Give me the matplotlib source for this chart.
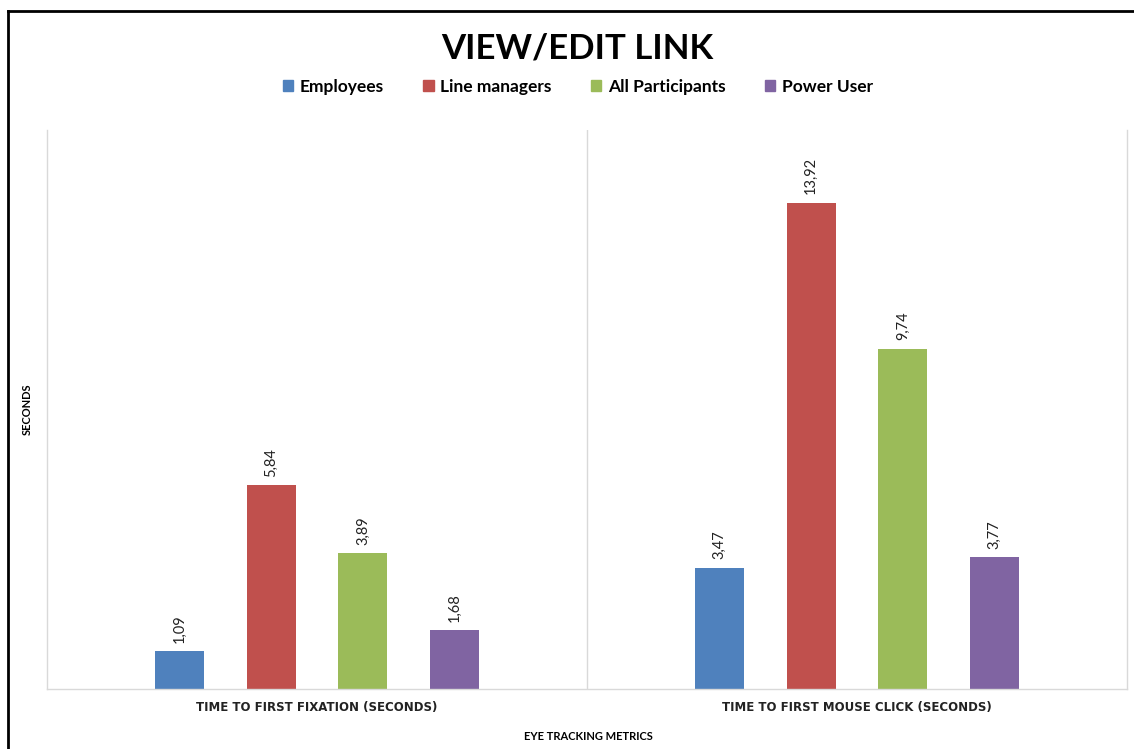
import matplotlib
matplotlib.use("Agg")
import matplotlib.pyplot as plt
from matplotlib.patches import Patch
from matplotlib.lines import Line2D
import numpy as np

plt.rcParams['font.family'] = ['Lato', 'DejaVu Sans']

title = "VIEW/EDIT LINK"
categories = ["TIME TO FIRST FIXATION (SECONDS)", "TIME TO FIRST MOUSE CLICK (SECONDS)"]
series = ["Employees", "Line managers", "All Participants", "Power User"]
employees = [1.09, 3.47]
line_managers = [5.84, 13.92]
all_participants = [3.89, 9.74]
power_user = [1.68, 3.77]
values = [employees, line_managers, all_participants, power_user]
colors = ["#4F81BD", "#C0504D", "#9BBB59", "#8064A2"]

fig = plt.figure(figsize=(11.34, 7.49), dpi=100)
ax = fig.add_axes([47/1134, 1-689/749, 1080/1134, 559/749])

x = np.arange(len(categories))
step = 0.170
width = 0.0907
for i, (name, vals, c) in enumerate(zip(series, values, colors)):
    pos = x + (i - 1.5) * step
    bars = ax.bar(pos, vals, width=width, color=c, label=name)
    for b, v in zip(bars, vals):
        ax.annotate(f"{v:.2f}".replace(".", ","), (b.get_x() + b.get_width()/2, v),
                    xytext=(0, 6), textcoords="offset points", rotation=90,
                    ha="center", va="bottom", fontsize=10.5, color="#222222")

ax.set_xlim(-0.5, 1.5)
ax.set_ylim(0, 16)
ax.set_yticks([])
ax.set_xticks(x)
ax.set_xticklabels(categories, fontsize=8.5, fontweight="bold", color="#222222",
                   family="DejaVu Sans")
ax.tick_params(axis="x", length=0, pad=9)
ax.spines["top"].set_visible(False)
for s in ["left", "right", "bottom"]:
    ax.spines[s].set_color("#D9D9D9")
    ax.spines[s].set_linewidth(1)
ax.axvline(0.5, color="#D9D9D9", lw=1)

ax.set_ylabel("SECONDS", fontsize=8, fontweight="bold", labelpad=10)
fig.text(588/1134, 1-737/749, "EYE TRACKING METRICS", fontsize=8, fontweight="bold",
         ha="center", va="center")

fig.text(577/1134, 1-48/749, title, fontsize=25, fontweight="bold", ha="center", va="center")

handles = [Patch(facecolor=c, edgecolor=c) for c in colors]
fig.legend(handles, series, loc="center", bbox_to_anchor=(578/1134, 1-87/749), ncol=4,
           frameon=False, prop={"weight": "bold", "size": 12.5}, handlelength=0.6,
           handleheight=0.6, handletextpad=0.4, columnspacing=2.25)

# outer border
fig.add_artist(Line2D([8/1134, 8/1134], [0, 1-11/749], color="black", lw=2, transform=fig.transFigure))
fig.add_artist(Line2D([8/1134, 1], [1-11/749, 1-11/749], color="black", lw=2, transform=fig.transFigure))

fig.savefig("out.png", dpi=100, facecolor="white")
